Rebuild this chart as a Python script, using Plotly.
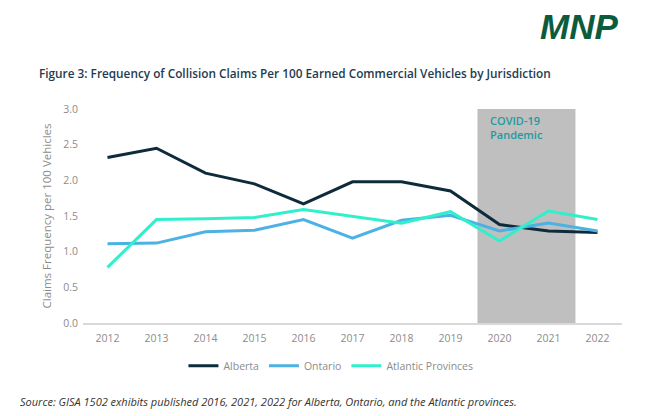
import plotly.graph_objects as go

# data
years = [2012, 2013, 2014, 2015, 2016, 2017, 2018, 2019, 2020, 2021, 2022]
alberta = [2.32, 2.45, 2.10, 1.95, 1.67, 1.98, 1.98, 1.85, 1.38, 1.29, 1.27]
ontario = [1.11, 1.12, 1.28, 1.30, 1.45, 1.19, 1.44, 1.51, 1.29, 1.40, 1.29]
atlantic = [0.78, 1.45, 1.46, 1.48, 1.59, 1.49, 1.40, 1.56, 1.15, 1.57, 1.45]
covid_start = 2019.55
covid_end = 2021.55

series = [
    ("Alberta", alberta, "#0e2b3b"),
    ("Ontario", ontario, "#4cb1e3"),
    ("Atlantic Provinces", atlantic, "#30f0cb"),
]

fig = go.Figure()

for name, vals, col in series:
    fig.add_trace(go.Scatter(x=years, y=vals, name=name, mode="lines",
                             line=dict(color=col, width=3)))

# covid shaded band
fig.add_shape(type="rect", xref="x", yref="y", x0=covid_start, x1=covid_end,
              y0=0, y1=3.0, fillcolor="#bfbfbf", line_width=0, layer="below")
fig.add_annotation(x=covid_start + 0.22, y=2.97, xref="x", yref="y",
                   text="COVID-19<br>Pandemic", showarrow=False,
                   xanchor="left", yanchor="top", align="left",
                   font=dict(family="Open Sans", size=11, color="#1f9aa0", weight=600))

# title, logo and source (page body has an 8px margin, figure is 641x408)
fig.add_annotation(x=-0.0853, y=1.167, xref="paper", yref="paper",
                   text="Figure 3: Frequency of Collision Claims Per 100 Earned Commercial Vehicles by Jurisdiction",
                   showarrow=False, xanchor="left", yanchor="middle",
                   font=dict(family="Open Sans", size=11.8, color="#1f3b4f", weight=600))
fig.add_annotation(x=0.996, y=1.387, xref="paper", yref="paper",
                   text="<b><i>MNP</i></b>", showarrow=False,
                   xanchor="right", yanchor="middle",
                   font=dict(family="Liberation Sans", size=35, color="#0b5b3c"))
fig.add_annotation(x=-0.1206, y=-0.369, xref="paper", yref="paper",
                   text="<i>Source: GISA 1502 exhibits published 2016, 2021, 2022 for Alberta, Ontario, and the Atlantic provinces.</i>",
                   showarrow=False, xanchor="left", yanchor="middle",
                   font=dict(family="Open Sans", size=11, color="#333333"))

fig.update_xaxes(range=[2011.5, 2022.5], tickvals=years, showgrid=False,
                 showline=True, linecolor="#d9d9d9", linewidth=1.5,
                 tickfont=dict(family="Open Sans", size=10.5, color="#8c8c8c"),
                 ticks="", zeroline=False, ticklabelstandoff=5)
fig.update_yaxes(range=[0, 3.0], dtick=0.5, tickformat=".1f", showgrid=False,
                 zeroline=False, showline=False, ticks="", ticklabelstandoff=4,
                 tickfont=dict(family="Open Sans", size=10.5, color="#8c8c8c"),
                 title=dict(text="Claims Frequency per 100 Vehicles", standoff=9,
                            font=dict(family="Open Sans", size=11.5, color="#8c8c8c")))

fig.update_layout(
    width=641, height=408,
    margin=dict(l=75, r=27, t=101, b=93),
    plot_bgcolor="white", paper_bgcolor="white",
    showlegend=True,
    legend=dict(orientation="h", x=0.46, xanchor="center", y=-0.2, yanchor="middle",
                font=dict(family="Open Sans", size=10.5, color="#8c8c8c"),
                itemwidth=30, tracegroupgap=0),
)

fig.write_html("out.html")
